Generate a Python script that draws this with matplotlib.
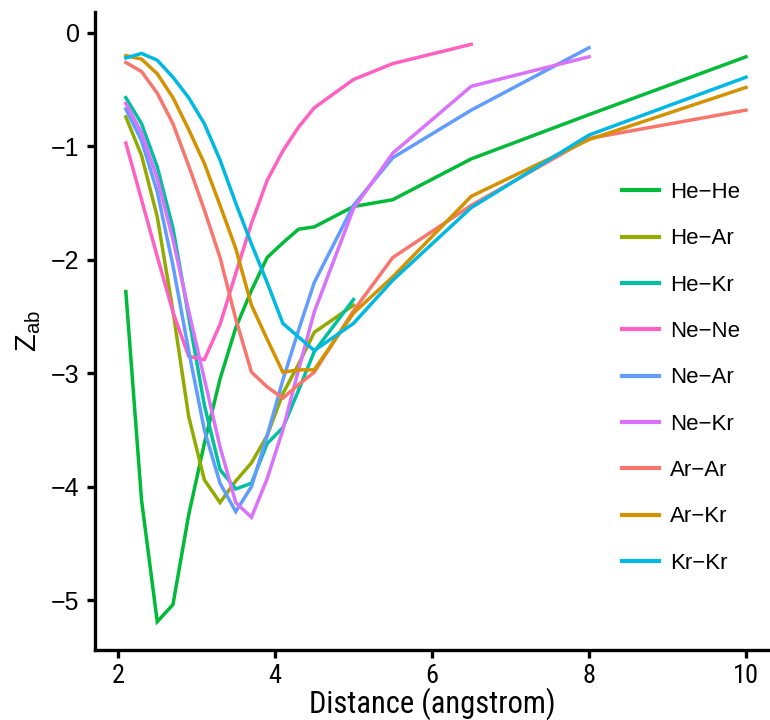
import matplotlib
matplotlib.use("Agg")
import matplotlib.pyplot as plt
from matplotlib import font_manager as fm

# ---------------- data ----------------
distance = [2.1, 2.3, 2.5, 2.7, 2.9, 3.1, 3.3, 3.5, 3.7, 3.9, 4.1, 4.3, 4.5, 5.0, 5.5, 6.5, 8.0, 10.0]

he_he = [-2.28, -4.12, -5.19, -5.04, -4.25, -3.62, -3.05, -2.60, -2.27, -1.98, -1.85, -1.73, -1.71, -1.53, -1.47, -1.11, -0.72, -0.21]
he_ar = [-0.74, -1.08, -1.62, -2.45, -3.38, -3.94, -4.14, -3.95, -3.79, -3.55, -3.18, -2.92, -2.64, -2.40]
he_kr = [-0.57, -0.80, -1.18, -1.72, -2.50, -3.28, -3.85, -4.02, -3.97, -3.62, -3.48, -3.15, -2.81, -2.35]
ne_ne = [-0.97, -1.47, -1.97, -2.46, -2.85, -2.88, -2.57, -2.12, -1.68, -1.30, -1.04, -0.83, -0.66, -0.41, -0.27, -0.10]
ne_ar = [-0.67, -0.95, -1.40, -2.05, -2.80, -3.50, -3.97, -4.22, -4.00, -3.55, -3.06, -2.62, -2.20, -1.52, -1.10, -0.68, -0.13]
ne_kr = [-0.62, -0.88, -1.28, -1.82, -2.45, -3.05, -3.65, -4.14, -4.27, -3.93, -3.50, -2.97, -2.46, -1.55, -1.06, -0.47, -0.21]
ar_ar = [-0.26, -0.34, -0.53, -0.80, -1.17, -1.56, -1.98, -2.52, -2.99, -3.12, -3.22, -3.10, -2.99, -2.45, -1.98, -1.52, -0.93, -0.68]
ar_kr = [-0.20, -0.23, -0.36, -0.57, -0.85, -1.15, -1.52, -1.90, -2.40, -2.70, -2.99, -2.97, -2.97, -2.47, -2.15, -1.44, -0.94, -0.48]
kr_kr = [-0.22, -0.18, -0.24, -0.39, -0.57, -0.80, -1.12, -1.50, -1.86, -2.20, -2.56, -2.68, -2.80, -2.56, -2.18, -1.54, -0.90, -0.39]

labels = ["He−He", "He−Ar", "He−Kr", "Ne−Ne", "Ne−Ar", "Ne−Kr", "Ar−Ar", "Ar−Kr", "Kr−Kr"]
series = [he_he, he_ar, he_kr, ne_ne, ne_ar, ne_kr, ar_ar, ar_kr, kr_kr]
colors = ["#00BA38", "#93AA00", "#00C19F", "#FF61C3", "#619CFF", "#DB72FB", "#F8766D", "#D39200", "#00B9E3"]

x_ticks = [2, 4, 6, 8, 10]
y_ticks = [0, -1, -2, -3, -4, -5]

# ---------------- fonts ----------------
names = {f.name for f in fm.fontManager.ttflist}
narrow = None
for cand in ["Liberation Sans Narrow", "Roboto Condensed", "DejaVu Sans Condensed", "Open Sans Condensed"]:
    if cand in names:
        narrow = cand
        break
regular = "Liberation Sans" if "Liberation Sans" in names else "DejaVu Sans"
if narrow is None:
    narrow = regular
plt.rcParams["font.family"] = [regular, "DejaVu Sans"]

# ---------------- figure ----------------
fig = plt.figure(figsize=(7.7, 7.2), dpi=100)
ax = fig.add_axes([95 / 770, 1 - 650 / 720, 1 - 95 / 770, (650 - 12) / 720])

for ys, lab, c in zip(series, labels, colors):
    ax.plot(distance[:len(ys)], ys, color=c, lw=2.5, label=lab, solid_joinstyle="miter")

ax.set_xlim(1.707, 10.306)
ax.set_ylim(-5.44, 0.185)

for s in ["top", "right"]:
    ax.spines[s].set_visible(False)
for s in ["left", "bottom"]:
    ax.spines[s].set_linewidth(2.4)
    ax.spines[s].set_color("black")

ax.set_xticks(x_ticks)
ax.set_yticks(y_ticks)
ax.set_xticklabels([str(v) for v in x_ticks], fontfamily=narrow, fontsize=19)
ax.set_yticklabels([("−" + str(-v)) if v < 0 else str(v) for v in y_ticks], fontsize=18)
ax.tick_params(axis="both", length=6, width=2.4, color="black", direction="out")
ax.tick_params(axis="x", pad=4)
ax.tick_params(axis="y", pad=5)

ax.set_xlabel("Distance (angstrom)", fontfamily=narrow, fontsize=22, labelpad=0)
ax.set_ylabel(r"Z$_{\mathregular{ab}}$", fontsize=21, labelpad=6)

leg = ax.legend(loc="upper left", bbox_to_anchor=(611 / 770, 1 - 171 / 720),
                bbox_transform=fig.transFigure, frameon=False, fontsize=16,
                handlelength=1.67, handletextpad=0.5, labelspacing=1.14, borderpad=0)
for line in leg.get_lines():
    line.set_linewidth(3)

fig.savefig("out.png", dpi=100)
